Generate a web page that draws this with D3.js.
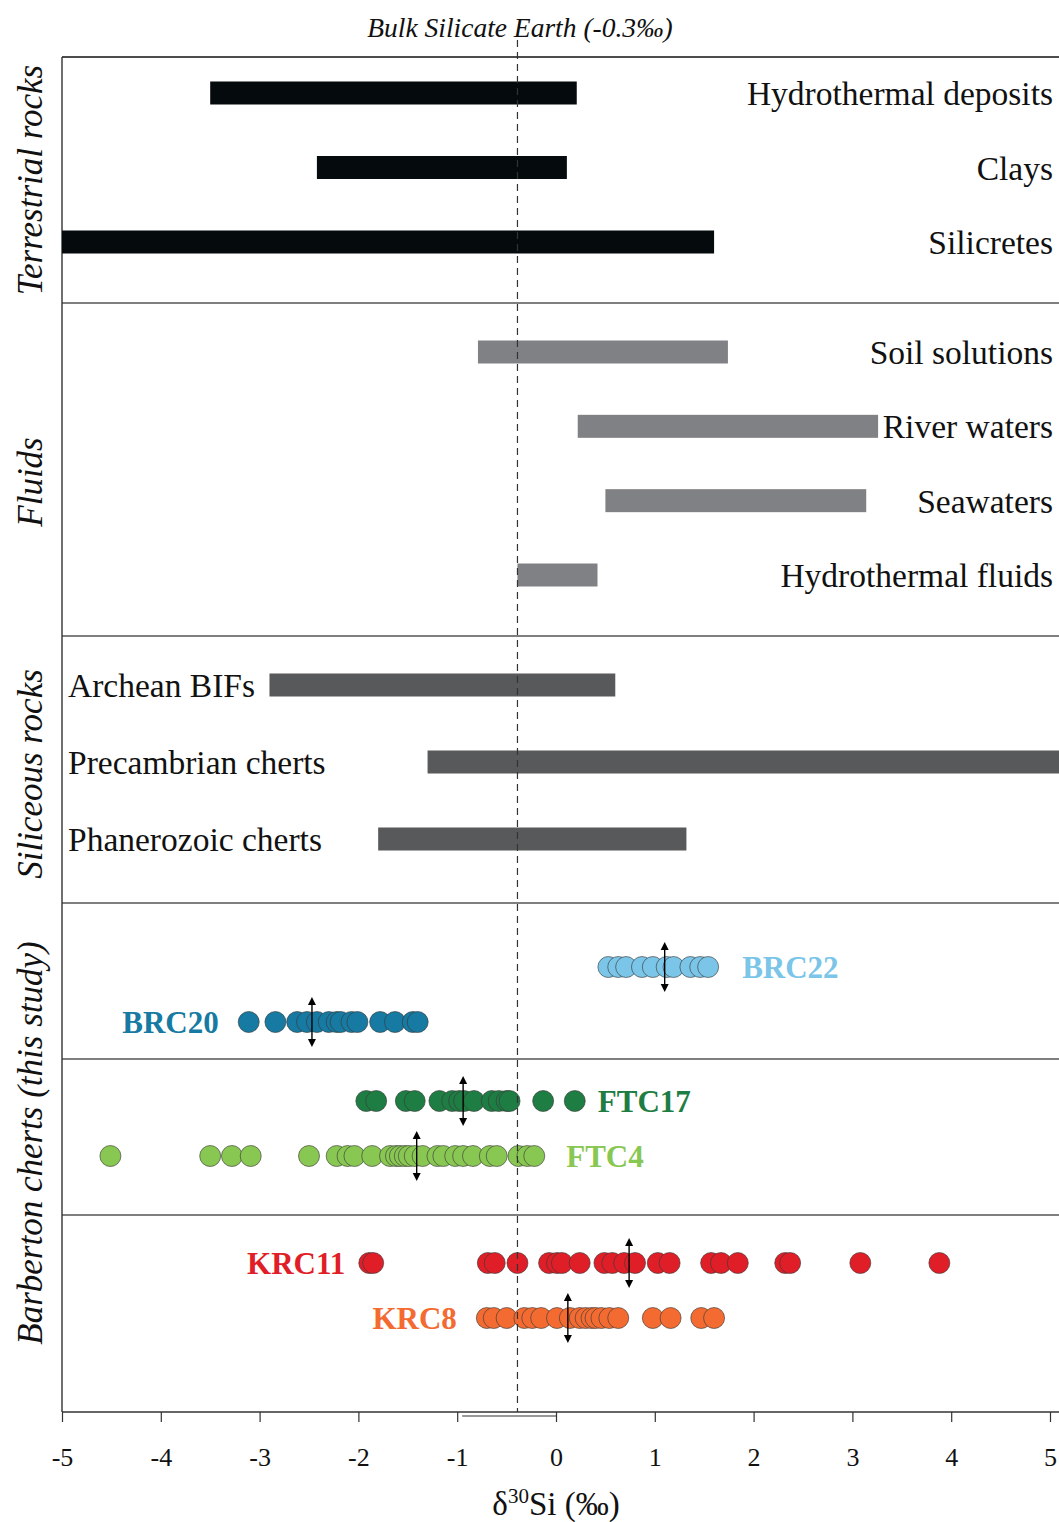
<!DOCTYPE html>
<html>
<head>
<meta charset="utf-8">
<script src="https://cdn.jsdelivr.net/npm/d3@7"></script>
<style>
  html, body { margin: 0; padding: 0; background: #fff; }
  svg { display: block; }
  text { font-family: "Liberation Serif", "DejaVu Serif", serif; }
</style>
</head>
<body>
<svg id="chart" width="1059" height="1522"></svg>
<script>
// ---------------- DATA ----------------
const xTicks = [-5, -4, -3, -2, -1, 0, 1, 2, 3, 4, 5];
const bseValue = -0.39;             // dashed line position
const bseRange = [-0.95, 0];        // small bracket under axis

const terrestrialNames = ["Hydrothermal deposits", "Clays", "Silicretes"];
const terrestrialMin   = [-3.5, -2.42, -5.0];
const terrestrialMax   = [0.21, 0.11, 1.6];

const fluidNames = ["Soil solutions", "River waters", "Seawaters", "Hydrothermal fluids"];
const fluidMin   = [-0.79, 0.22, 0.5, -0.39];
const fluidMax   = [1.74, 3.26, 3.14, 0.42];

const siliceousNames = ["Archean BIFs", "Precambrian cherts", "Phanerozoic cherts"];
const siliceousMin   = [-2.9, -1.3, -1.8];
const siliceousMax   = [0.6, 5.2, 1.32];

const BRC22 = [0.53, 0.63, 0.71, 0.87, 0.98, 1.12, 1.19, 1.36, 1.46, 1.54];
const BRC20 = [-3.11, -2.84, -2.62, -2.52, -2.42, -2.30, -2.22, -2.18, -2.07, -2.01, -1.78, -1.63, -1.45, -1.40];
const FTC17 = [-1.92, -1.82, -1.52, -1.43, -1.18, -1.05, -0.98, -0.93, -0.83, -0.65, -0.58, -0.50, -0.47, -0.13, 0.19];
const FTC4  = [-4.51, -3.50, -3.28, -3.09, -2.50, -2.22, -2.11, -2.04, -1.86, -1.68, -1.62, -1.58, -1.53, -1.49,
               -1.43, -1.35, -1.20, -1.14, -1.02, -0.94, -0.84, -0.67, -0.60, -0.38, -0.29, -0.22];
const KRC11 = [-1.89, -1.85, -0.69, -0.62, -0.39, -0.07, 0.01, 0.06, 0.24, 0.49, 0.57, 0.69, 0.80, 1.03, 1.15,
               1.57, 1.67, 1.84, 2.32, 2.37, 3.08, 3.88];
const KRC8  = [-0.70, -0.63, -0.50, -0.32, -0.24, -0.15, 0.01, 0.14, 0.24, 0.30, 0.36, 0.40, 0.46, 0.54, 0.63,
               0.98, 1.16, 1.47, 1.60];

const sampleNames = ["BRC22", "BRC20", "FTC17", "FTC4", "KRC11", "KRC8"];
const sampleValues = [BRC22, BRC20, FTC17, FTC4, KRC11, KRC8];
const sampleArrows = [1.10, -2.47, -0.94, -1.41, 0.74, 0.12];
const sampleGroups = [["BRC22", "BRC20"], ["FTC17", "FTC4"], ["KRC11", "KRC8"]];

const groupTitles = ["Terrestrial rocks", "Fluids", "Siliceous rocks", "Barberton cherts (this study)"];

// ---------------- STYLE / LAYOUT ----------------
const W = 1059, H = 1522;
const left = 62, right = 1050;
const panelTop = [57, 303, 636, 903];
const axisY = 1412;
const subTop = [903, 1059, 1215];

const sampleColors = {BRC22: "#7ac5e8", BRC20: "#167aa2", FTC17: "#1e7d43", FTC4: "#89c753", KRC11: "#e01e28", KRC8: "#f36b31"};
const sampleLabelSide = {BRC22: "right", BRC20: "left", FTC17: "right", FTC4: "right", KRC11: "left", KRC8: "left"};
const sampleLabelGap = {BRC22: 34, BRC20: 30, FTC17: 23, FTC4: 32, KRC11: 24, KRC8: 30};

const svg = d3.select("#chart");

const x = d3.scaleLinear().domain([-5, 5]).range([left, right]);

// per-panel row scales
const yTerr = d3.scalePoint().domain(terrestrialNames).range([93, 242]);
const yFluid = d3.scalePoint().domain(fluidNames).range([352, 575]);
const ySil = d3.scalePoint().domain(siliceousNames).range([685, 839]);
const ySub = [
  d3.scalePoint().domain(sampleGroups[0]).range([967, 1022]),
  d3.scalePoint().domain(sampleGroups[1]).range([1101, 1156]),
  d3.scalePoint().domain(sampleGroups[2]).range([1263, 1318])
];
function ySample(name) {
  for (let i = 0; i < sampleGroups.length; i++) if (sampleGroups[i].includes(name)) return ySub[i](name);
}

svg.append("defs").append("clipPath").attr("id", "plotclip")
  .append("rect").attr("x", left).attr("y", panelTop[0]).attr("width", W - left).attr("height", axisY - panelTop[0]);

// ---------------- FRAME ----------------
const frame = svg.append("g");
frame.append("line").attr("x1", left).attr("x2", W).attr("y1", panelTop[0]).attr("y2", panelTop[0])
  .attr("stroke", "#111").attr("stroke-width", 1.6);
[panelTop[1], panelTop[2], panelTop[3], subTop[1], subTop[2]].forEach(yy => {
  frame.append("line").attr("x1", left).attr("x2", W).attr("y1", yy).attr("y2", yy)
    .attr("stroke", "#555").attr("stroke-width", 1.4);
});
frame.append("line").attr("x1", left).attr("x2", left).attr("y1", panelTop[0]).attr("y2", axisY)
  .attr("stroke", "#333").attr("stroke-width", 1.4);

// ---------------- BARS ----------------
const plot = svg.append("g").attr("clip-path", "url(#plotclip)");
const barH = 23;

function drawBars(names, mins, maxs, yScale, color) {
  const data = names.map((n, i) => ({name: n, min: mins[i], max: maxs[i]}));
  plot.selectAll(null).data(data).enter().append("rect")
    .attr("x", d => x(d.min)).attr("width", d => x(d.max) - x(d.min))
    .attr("y", d => yScale(d.name) - barH / 2).attr("height", barH)
    .attr("fill", color);
}
drawBars(terrestrialNames, terrestrialMin, terrestrialMax, yTerr, "#050a0c");
drawBars(fluidNames, fluidMin, fluidMax, yFluid, "#808184");
drawBars(siliceousNames, siliceousMin, siliceousMax, ySil, "#58595b");

// bar labels
const lblSize = 33.5;
svg.selectAll(null).data(terrestrialNames).enter().append("text")
  .attr("x", 1053).attr("y", d => yTerr(d) + 12).attr("text-anchor", "end")
  .attr("font-size", lblSize).attr("fill", "#111").text(d => d);
svg.selectAll(null).data(fluidNames).enter().append("text")
  .attr("x", 1053).attr("y", d => yFluid(d) + 12).attr("text-anchor", "end")
  .attr("font-size", lblSize).attr("fill", "#111").text(d => d);
svg.selectAll(null).data(siliceousNames).enter().append("text")
  .attr("x", 68).attr("y", d => ySil(d) + 12).attr("text-anchor", "start")
  .attr("font-size", lblSize).attr("fill", "#111").text(d => d);

// ---------------- DASHED BSE LINE ----------------
svg.append("line").attr("x1", x(bseValue)).attr("x2", x(bseValue)).attr("y1", 40).attr("y2", axisY)
  .attr("stroke", "#333").attr("stroke-width", 1.2).attr("stroke-dasharray", "7,5");

// ---------------- POINTS ----------------
const r = 10.5;
sampleNames.forEach((name, i) => {
  const vals = sampleValues[i];
  const yy = ySample(name);
  const g = plot.append("g");
  g.selectAll("circle").data(vals).enter().append("circle")
    .attr("cx", d => x(d)).attr("cy", yy).attr("r", r)
    .attr("fill", sampleColors[name]).attr("stroke", "#3a3a3a").attr("stroke-width", 0.8)
    .attr("stroke-opacity", 0.8);
});

// arrows
const arrowLen = 25, headL = 8, headW = 4;
sampleNames.forEach((name, i) => {
  const ax = x(sampleArrows[i]);
  const yy = ySample(name);
  const g = svg.append("g");
  g.append("line").attr("x1", ax).attr("x2", ax).attr("y1", yy - arrowLen + headL - 1).attr("y2", yy + arrowLen - headL + 1)
    .attr("stroke", "#000").attr("stroke-width", 1.4);
  g.append("path").attr("d", `M${ax},${yy - arrowLen} L${ax - headW},${yy - arrowLen + headL} L${ax + headW},${yy - arrowLen + headL} Z`)
    .attr("fill", "#000");
  g.append("path").attr("d", `M${ax},${yy + arrowLen} L${ax - headW},${yy + arrowLen - headL} L${ax + headW},${yy + arrowLen - headL} Z`)
    .attr("fill", "#000");
});

// sample labels
sampleNames.forEach((name, i) => {
  const vals = sampleValues[i];
  const side = sampleLabelSide[name];
  const gap = sampleLabelGap[name];
  const xx = side === "right" ? x(d3.max(vals)) + gap : x(d3.min(vals)) - gap;
  svg.append("text").attr("x", xx).attr("y", ySample(name) + 11)
    .attr("text-anchor", side === "right" ? "start" : "end")
    .attr("font-size", 31).attr("font-weight", "bold").attr("fill", sampleColors[name]).text(name);
});

// ---------------- X AXIS ----------------
const axis = d3.axisBottom(x).tickValues(xTicks).tickSize(10).tickPadding(26).tickFormat(d3.format("d"));
const ag = svg.append("g").attr("transform", `translate(0,${axisY})`).call(axis);
ag.select(".domain").attr("stroke", "#333").attr("stroke-width", 1.4).attr("d", `M${left},0H${W}`);
ag.selectAll(".tick line").attr("stroke", "#333").attr("stroke-width", 1.2);
ag.selectAll(".tick text").attr("font-size", 26).attr("fill", "#111")
  .attr("font-family", "'Liberation Serif', serif")
  .text(d => d < 0 ? "-" + Math.abs(d) : d);

// bracket under axis
svg.append("line").attr("x1", x(bseRange[0])).attr("x2", x(bseRange[1])).attr("y1", axisY + 4).attr("y2", axisY + 4)
  .attr("stroke", "#333").attr("stroke-width", 1.2);

// axis title
const at = svg.append("text").attr("x", x(0)).attr("y", 1515).attr("text-anchor", "middle")
  .attr("font-size", 33).attr("fill", "#111");
at.append("tspan").text("δ");
at.append("tspan").attr("font-size", 21).attr("dy", -12).text("30");
at.append("tspan").attr("dy", 12).text("Si (‰)");

// title
svg.append("text").attr("x", 520).attr("y", 37).attr("text-anchor", "middle")
  .attr("font-size", 27.5).attr("font-style", "italic").attr("fill", "#111")
  .text("Bulk Silicate Earth (-0.3‰)");

// group titles (rotated)
const groupCenters = [180, 482, 774, 1143];
groupTitles.forEach((t, i) => {
  svg.append("text").attr("transform", `translate(42,${groupCenters[i]}) rotate(-90)`)
    .attr("text-anchor", "middle").attr("font-size", 35).attr("font-style", "italic").attr("fill", "#111")
    .text(t);
});
</script>
</body>
</html>
